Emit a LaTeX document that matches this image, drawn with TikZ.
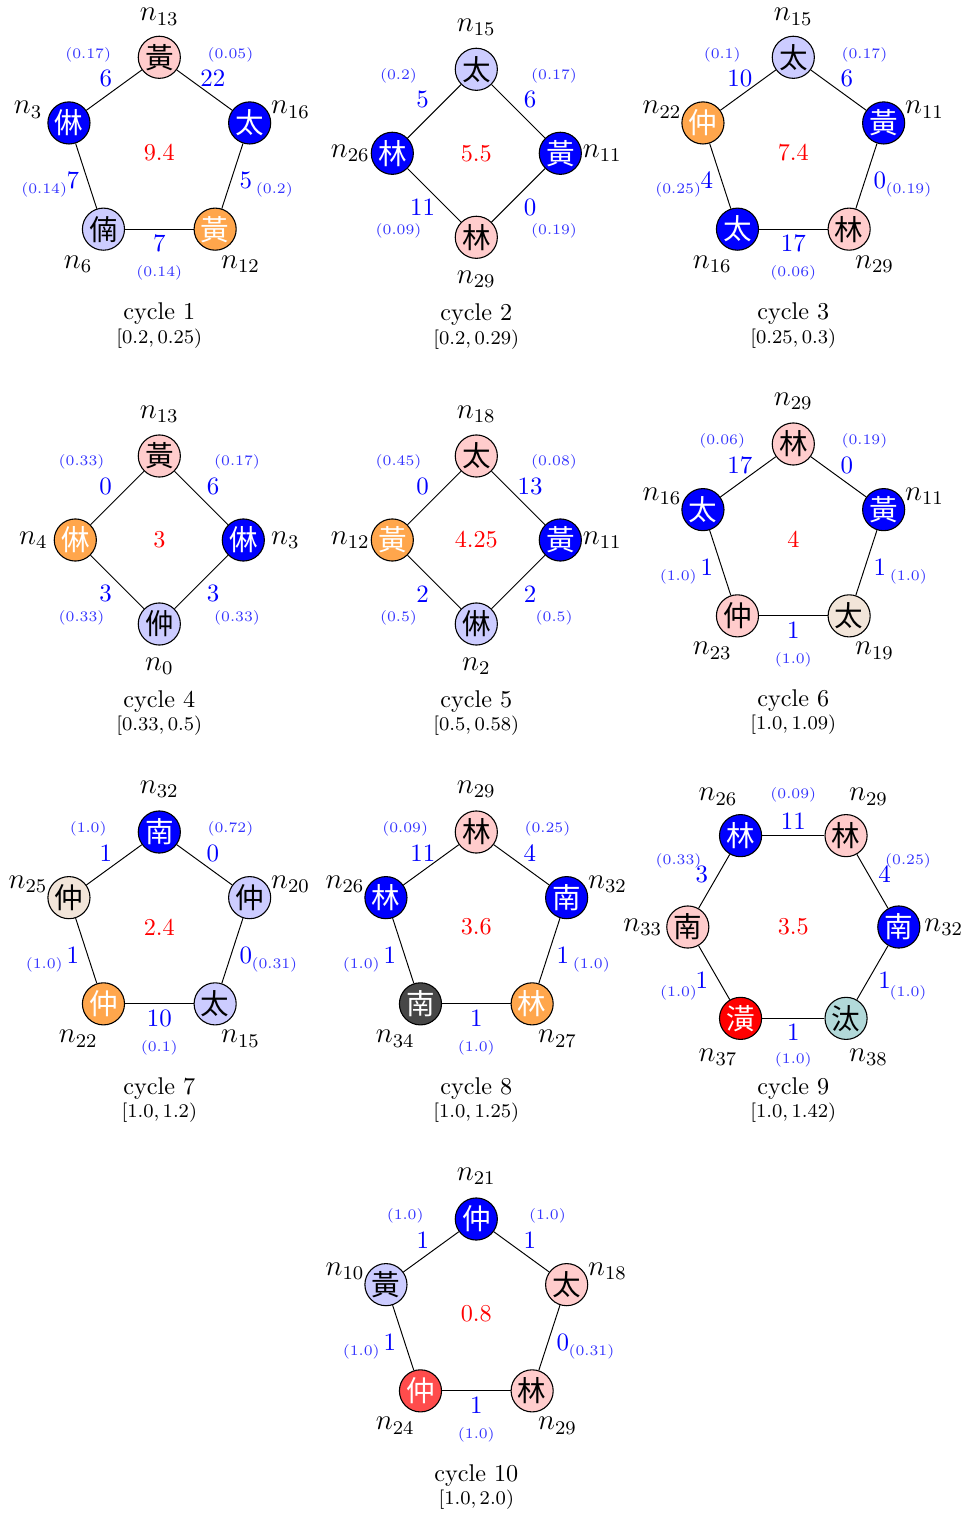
\documentclass[tikz,border=0pt]{standalone}
\usepackage{fontspec}
\newfontfamily\cjk{Noto Sans CJK TC}
\usetikzlibrary{calc}
\tikzset{
  cn/.style={circle,draw=black,line width=0.45pt,minimum size=17.4pt,inner sep=0pt,font=\cjk\fontsize{11.8}{12}\selectfont},
  nl/.style={font=\fontsize{12}{14}\selectfont,inner sep=0pt},
  wl/.style={text=blue,font=\fontsize{10.3}{12}\selectfont,inner sep=0pt},
  sl/.style={text=blue!80,font=\fontsize{6}{7}\selectfont,inner sep=0pt},
  cl/.style={text=red,font=\fontsize{10}{12}\selectfont},
  ln/.style={draw=black,line width=0.4pt},
  pinkf/.style={fill=red!20},
  lavf/.style={fill=blue!20},
  bluef/.style={fill=blue,text=white},
  orangef/.style={fill=orange!70,text=white},
  beigef/.style={fill=brown!20},
  grayf/.style={fill=black!72,text=white},
  redf/.style={fill=red,text=white},
  lredf/.style={fill=red!70,text=white},
  tealf/.style={fill=teal!30},
}
% vertex: center, name, angle, R, Rlabel, style, char, index
\newcommand\vx[8]{\node[cn,#6] (#2) at ($(#1)+(#3:#4)$) {#7};\node[nl] (#2l) at ($(#1)+(#3:#5)$) {$n_{#8}$};}
% edge: center, a, b, angle, rw, rs, weight, fraction
\newcommand\ed[8]{\draw[ln] (#2) -- (#3);\node[wl] (#2#3w) at ($(#1)+(#4:#5)$) {#7};\node[sl] (#2#3s) at ($(#1)+(#4:#6)$) {(#8)};}
% cycle frame: name, x, cy, value, number, interval
\newcommand\cyc[6]{\coordinate (#1) at (#2,-#3);
  \node[cl] (#1v) at (#1) {#4};
  \node[font=\fontsize{10}{12}\selectfont] (#1t) at ($(#1)+(0,-161.5)$) {cycle #5};
  \node[font=\footnotesize] (#1i) at ($(#1)+(0,-186)$) {$#6$};}
% pentagon / diamond / hexagon helpers
\newcommand\pv[6]{\vx{#1}{#2}{#3}{95}{138}{#4}{#5}{#6}}
\newcommand\pe[6]{\ed{#1}{#2}{#3}{#4}{91}{121}{#5}{#6}}
\newcommand\dv[6]{\vx{#1}{#2}{#3}{84}{126}{#4}{#5}{#6}}
\newcommand\de[6]{\ed{#1}{#2}{#3}{#4}{76}{110}{#5}{#6}}
\newcommand\hv[6]{\vx{#1}{#2}{#3}{105.5}{150.5}{#4}{#5}{#6}}
\newcommand\he[6]{\ed{#1}{#2}{#3}{#4}{105.5}{132.5}{#5}{#6}}
\begin{document}
\begin{tikzpicture}[x=0.41322pt,y=0.41322pt]
\useasboundingbox (0,0) rectangle (966,-1514);
% ---------- cycle 1
\cyc{C1}{159.3}{152.3}{9.4}{1}{[0.2, 0.25)}
\vx{C1}{c1a}{90}{95}{135.5}{pinkf}{黃}{13}
\pv{C1}{c1b}{18}{bluef}{太}{16}
\pv{C1}{c1c}{-54}{orangef}{黃}{12}
\pv{C1}{c1d}{-126}{lavf}{㑲}{6}
\pv{C1}{c1e}{162}{bluef}{㑣}{3}
\pe{C1}{c1a}{c1b}{54}{22}{0.05}
\pe{C1}{c1b}{c1c}{-18}{5}{0.2}
\pe{C1}{c1c}{c1d}{-90}{7}{0.14}
\pe{C1}{c1d}{c1e}{-162}{7}{0.14}
\pe{C1}{c1e}{c1a}{126}{6}{0.17}
% ---------- cycle 2
\cyc{C2}{476.3}{153.3}{5.5}{2}{[0.2, 0.29)}
\dv{C2}{c2a}{90}{lavf}{太}{15}
\dv{C2}{c2b}{0}{bluef}{黃}{11}
\dv{C2}{c2c}{-90}{pinkf}{林}{29}
\dv{C2}{c2d}{180}{bluef}{林}{26}
\de{C2}{c2a}{c2b}{45}{6}{0.17}
\de{C2}{c2b}{c2c}{-45}{0}{0.19}
\de{C2}{c2c}{c2d}{-135}{11}{0.09}
\de{C2}{c2d}{c2a}{135}{5}{0.2}
% ---------- cycle 3
\cyc{C3}{793.3}{152.3}{7.4}{3}{[0.25, 0.3)}
\vx{C3}{c3a}{90}{95}{135.5}{lavf}{太}{15}
\pv{C3}{c3b}{18}{bluef}{黃}{11}
\pv{C3}{c3c}{-54}{pinkf}{林}{29}
\pv{C3}{c3d}{-126}{bluef}{太}{16}
\pv{C3}{c3e}{162}{orangef}{仲}{22}
\pe{C3}{c3a}{c3b}{54}{6}{0.17}
\pe{C3}{c3b}{c3c}{-18}{0}{0.19}
\pe{C3}{c3c}{c3d}{-90}{17}{0.06}
\pe{C3}{c3d}{c3e}{-162}{4}{0.25}
\pe{C3}{c3e}{c3a}{126}{10}{0.1}
% ---------- cycle 4
\cyc{C4}{159.3}{540}{3}{4}{[0.33, 0.5)}
\dv{C4}{c4a}{90}{pinkf}{黃}{13}
\dv{C4}{c4b}{0}{bluef}{㑣}{3}
\dv{C4}{c4c}{-90}{lavf}{㑖}{0}
\dv{C4}{c4d}{180}{orangef}{㑣}{4}
\de{C4}{c4a}{c4b}{45}{6}{0.17}
\de{C4}{c4b}{c4c}{-45}{3}{0.33}
\de{C4}{c4c}{c4d}{-135}{3}{0.33}
\de{C4}{c4d}{c4a}{135}{0}{0.33}
% ---------- cycle 5
\cyc{C5}{476.3}{540}{4.25}{5}{[0.5, 0.58)}
\dv{C5}{c5a}{90}{pinkf}{太}{18}
\dv{C5}{c5b}{0}{bluef}{黃}{11}
\dv{C5}{c5c}{-90}{lavf}{㑣}{2}
\dv{C5}{c5d}{180}{orangef}{黃}{12}
\de{C5}{c5a}{c5b}{45}{13}{0.08}
\de{C5}{c5b}{c5c}{-45}{2}{0.5}
\de{C5}{c5c}{c5d}{-135}{2}{0.5}
\de{C5}{c5d}{c5a}{135}{0}{0.45}
% ---------- cycle 6
\cyc{C6}{793.3}{539}{4}{6}{[1.0, 1.09)}
\pv{C6}{c6a}{90}{pinkf}{林}{29}
\pv{C6}{c6b}{18}{bluef}{黃}{11}
\pv{C6}{c6c}{-54}{beigef}{太}{19}
\pv{C6}{c6d}{-126}{pinkf}{仲}{23}
\pv{C6}{c6e}{162}{bluef}{太}{16}
\pe{C6}{c6a}{c6b}{54}{0}{0.19}
\pe{C6}{c6b}{c6c}{-18}{1}{1.0}
\pe{C6}{c6c}{c6d}{-90}{1}{1.0}
\pe{C6}{c6d}{c6e}{-162}{1}{1.0}
\pe{C6}{c6e}{c6a}{126}{17}{0.06}
% ---------- cycle 7
\cyc{C7}{159.3}{927}{2.4}{7}{[1.0, 1.2)}
\pv{C7}{c7a}{90}{bluef}{南}{32}
\pv{C7}{c7b}{18}{lavf}{仲}{20}
\pv{C7}{c7c}{-54}{lavf}{太}{15}
\pv{C7}{c7d}{-126}{orangef}{仲}{22}
\pv{C7}{c7e}{162}{beigef}{仲}{25}
\pe{C7}{c7a}{c7b}{54}{0}{0.72}
\pe{C7}{c7b}{c7c}{-18}{0}{0.31}
\pe{C7}{c7c}{c7d}{-90}{10}{0.1}
\pe{C7}{c7d}{c7e}{-162}{1}{1.0}
\pe{C7}{c7e}{c7a}{126}{1}{1.0}
% ---------- cycle 8
\cyc{C8}{476.3}{927}{3.6}{8}{[1.0, 1.25)}
\pv{C8}{c8a}{90}{pinkf}{林}{29}
\pv{C8}{c8b}{18}{bluef}{南}{32}
\pv{C8}{c8c}{-54}{orangef}{林}{27}
\pv{C8}{c8d}{-126}{grayf}{南}{34}
\pv{C8}{c8e}{162}{bluef}{林}{26}
\pe{C8}{c8a}{c8b}{54}{4}{0.25}
\pe{C8}{c8b}{c8c}{-18}{1}{1.0}
\pe{C8}{c8c}{c8d}{-90}{1}{1.0}
\pe{C8}{c8d}{c8e}{-162}{1}{1.0}
\pe{C8}{c8e}{c8a}{126}{11}{0.09}
% ---------- cycle 9
\cyc{C9}{793.3}{927}{3.5}{9}{[1.0, 1.42)}
\hv{C9}{c9a}{120}{bluef}{林}{26}
\hv{C9}{c9b}{60}{pinkf}{林}{29}
\hv{C9}{c9c}{0}{bluef}{南}{32}
\hv{C9}{c9d}{-60}{tealf}{汰}{38}
\hv{C9}{c9e}{-120}{redf}{潢}{37}
\hv{C9}{c9f}{180}{pinkf}{南}{33}
\he{C9}{c9a}{c9b}{90}{11}{0.09}
\he{C9}{c9b}{c9c}{30}{4}{0.25}
\he{C9}{c9c}{c9d}{-30}{1}{1.0}
\he{C9}{c9d}{c9e}{-90}{1}{1.0}
\he{C9}{c9e}{c9f}{-150}{1}{1.0}
\he{C9}{c9f}{c9a}{150}{3}{0.33}
% ---------- cycle 10
\cyc{C10}{476.3}{1314}{0.8}{10}{[1.0, 2.0)}
\pv{C10}{c10a}{90}{bluef}{仲}{21}
\pv{C10}{c10b}{18}{pinkf}{太}{18}
\pv{C10}{c10c}{-54}{pinkf}{林}{29}
\pv{C10}{c10d}{-126}{lredf}{仲}{24}
\pv{C10}{c10e}{162}{lavf}{黃}{10}
\pe{C10}{c10a}{c10b}{54}{1}{1.0}
\pe{C10}{c10b}{c10c}{-18}{0}{0.31}
\pe{C10}{c10c}{c10d}{-90}{1}{1.0}
\pe{C10}{c10d}{c10e}{-162}{1}{1.0}
\pe{C10}{c10e}{c10a}{126}{1}{1.0}
\end{tikzpicture}
\end{document}
